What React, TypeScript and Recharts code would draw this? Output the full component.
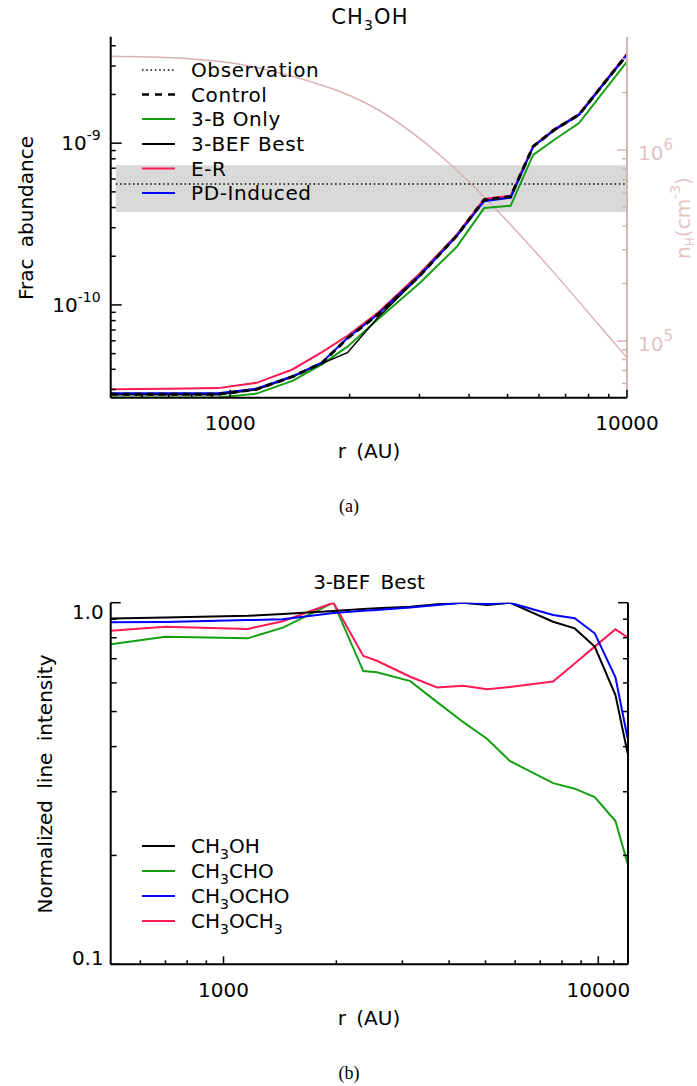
import React from "react"
import { LineChart, Line, XAxis, YAxis, ReferenceArea } from "recharts"

const FONT = "'DejaVu Sans', sans-serif"
const GREEN = "#14a014"
const RED = "#ff1a55"
const BLUE = "#0000ff"
const ROSE = "#d9b2b2"
const ROSE_TEXT = "#e2c4c4"

// ---- panel (a): CH3OH fractional abundance ----
const radiusA = [500, 700, 933, 1165, 1435, 1700, 1975, 2350, 3000, 3720, 4365, 5090, 5800, 6560, 7570, 10000]
const control = [2.8e-11, 2.8e-11, 2.8e-11, 3.01e-11, 3.6e-11, 4.36e-11, 6.22e-11, 8.67e-11, 1.51e-10, 2.67e-10, 4.46e-10, 4.68e-10, 9.53e-10, 1.21e-9, 1.5e-9, 3.52e-9]
const threeBOnly = [2.68e-11, 2.68e-11, 2.68e-11, 2.83e-11, 3.39e-11, 4.28e-11, 5.52e-11, 8.1e-11, 1.36e-10, 2.28e-10, 3.97e-10, 4.1e-10, 8.46e-10, 1.05e-9, 1.33e-9, 3.19e-9]
const threeBEF = [2.78e-11, 2.78e-11, 2.78e-11, 2.99e-11, 3.58e-11, 4.34e-11, 5.07e-11, 8.3e-11, 1.5e-10, 2.66e-10, 4.44e-10, 4.66e-10, 9.5e-10, 1.2e-9, 1.49e-9, 3.5e-9]
const eleyRideal = [3.01e-11, 3.03e-11, 3.06e-11, 3.3e-11, 3.99e-11, 5.09e-11, 6.45e-11, 8.9e-11, 1.56e-10, 2.71e-10, 4.52e-10, 4.73e-10, 9.6e-10, 1.22e-9, 1.51e-9, 3.57e-9]
const pdInduced = [2.84e-11, 2.84e-11, 2.84e-11, 3.04e-11, 3.62e-11, 4.4e-11, 6.25e-11, 8.7e-11, 1.52e-10, 2.66e-10, 4.38e-10, 4.6e-10, 9.5e-10, 1.21e-9, 1.5e-9, 3.52e-9]

// observed value and its range
const obsRadius = [515, 10000]
const obsValue = 5.6e-10
const obsLow = 3.75e-10
const obsHigh = 7.3e-10

// density profile (right axis)
const radiusDensity = [500, 738, 1000, 1234, 1595, 2000, 2378, 2878, 3505, 4055, 5050, 6368, 8506, 10000]
const densityH = [3.1e6, 3.03e6, 2.86e6, 2.63e6, 2.28e6, 1.93e6, 1.61e6, 1.23e6, 8.79e5, 6.62e5, 4.14e5, 2.43e5, 1.21e5, 8.17e4]

const xTicksA = [600, 700, 800, 900, 1000, 2000, 3000, 4000, 5000, 6000, 7000, 8000, 9000, 10000]
const yTicksA = [3e-11, 4e-11, 5e-11, 6e-11, 7e-11, 8e-11, 9e-11, 1e-10, 2e-10, 3e-10, 4e-10, 5e-10, 6e-10, 7e-10, 8e-10, 9e-10, 1e-9, 2e-9, 3e-9, 4e-9]
const nTicksA = [6e4, 7e4, 8e4, 9e4, 1e5, 2e5, 3e5, 4e5, 5e5, 6e5, 7e5, 8e5, 9e5, 1e6, 2e6, 3e6]

// ---- panel (b): normalized line intensity, 3-BEF Best ----
const radiusB = [500, 700, 1160, 1440, 1965, 2360, 2565, 3150, 3715, 4355, 5055, 5805, 7575, 8650, 9780, 11110, 11970]
const ch3oh = [0.905, 0.91, 0.92, 0.93, 0.948, 0.96, 0.965, 0.975, 0.99, 1.0, 0.985, 1.0, 0.886, 0.849, 0.756, 0.555, 0.384]
const ch3cho = [0.767, 0.805, 0.797, 0.853, 1.0, 0.647, 0.642, 0.607, 0.531, 0.468, 0.42, 0.365, 0.317, 0.306, 0.29, 0.249, 0.19]
const ch3ocho = [0.883, 0.885, 0.895, 0.9, 0.937, 0.95, 0.955, 0.97, 0.985, 1.0, 0.992, 1.0, 0.925, 0.906, 0.823, 0.622, 0.422]
const ch3och3 = [0.837, 0.858, 0.846, 0.889, 1.0, 0.712, 0.691, 0.624, 0.583, 0.589, 0.576, 0.585, 0.605, 0.679, 0.756, 0.844, 0.802]

const xTicksB = [600, 700, 800, 900, 1000, 2000, 3000, 4000, 5000, 6000, 7000, 8000, 9000, 10000, 11000]
const yTicksB = [0.1, 0.2, 0.3, 0.4, 0.5, 0.6, 0.7, 0.8, 0.9, 1.0]

const toPoints = (xs: number[], ys: number[]) => xs.map((r, i) => ({ r, v: ys[i] }))

const isMajor = (v: number) => Math.abs(Math.log10(v) - Math.round(Math.log10(v))) < 1e-6

// IDL style ticks: drawn inward from the axis line
const bottomTick = (labelDy: number, len: number[]) => (props: any) => {
  const { x, y, payload } = props
  const major = isMajor(payload.value)
  return (
    <g>
      <line x1={x} x2={x} y1={y} y2={y - (major ? len[0] : len[1])} stroke="#000" strokeWidth={1.5} />
      {major && (
        <text x={x} y={y + labelDy} textAnchor="middle" fontSize={20} fontFamily={FONT} fill="#000">
          {payload.value}
        </text>
      )}
    </g>
  )
}

const topTick = (len: number[]) => (props: any) => {
  const { x, y, payload } = props
  const major = isMajor(payload.value)
  return <line x1={x} x2={x} y1={y} y2={y + (major ? len[0] : len[1])} stroke="#000" strokeWidth={1.5} />
}

const powerLabel = (v: number) => String(Math.round(Math.log10(v)))

const leftTickA = (props: any) => {
  const { x, y, payload } = props
  const major = isMajor(payload.value)
  return (
    <g>
      <line x1={x} x2={x + (major ? 11 : 5)} y1={y} y2={y} stroke="#000" strokeWidth={1.5} />
      {major && (
        <text x={x - 10} y={y + 7} textAnchor="end" fontSize={20} fontFamily={FONT} fill="#000">
          10
          <tspan dy={-10} fontSize={14}>
            {powerLabel(payload.value)}
          </tspan>
        </text>
      )}
    </g>
  )
}

const rightTickA = (props: any) => {
  const { x, y, payload } = props
  const major = isMajor(payload.value)
  return (
    <g>
      <line x1={x} x2={x - (major ? 10 : 5)} y1={y} y2={y} stroke={ROSE} strokeWidth={1.5} />
      {major && (
        <text x={x + 11} y={y + 10} textAnchor="start" fontSize={20} fontFamily={FONT} fill={ROSE_TEXT}>
          10
          <tspan dy={-10} fontSize={15}>
            {powerLabel(payload.value)}
          </tspan>
        </text>
      )}
    </g>
  )
}

const leftTickB = (props: any) => {
  const { x, y, payload } = props
  const v = payload.value
  const major = isMajor(v)
  const dy = v >= 1 ? 16 : 1
  return (
    <g>
      <line x1={x} x2={x + (major ? 10 : 6)} y1={y} y2={y} stroke="#000" strokeWidth={1.5} />
      {major && (
        <text x={x - 7} y={y + dy} textAnchor="end" fontSize={20} fontFamily={FONT} fill="#000">
          {v.toFixed(1)}
        </text>
      )}
    </g>
  )
}

const rightTickB = (props: any) => {
  const { x, y, payload } = props
  const major = isMajor(payload.value)
  return <line x1={x} x2={x - (major ? 10 : 5)} y1={y} y2={y} stroke="#000" strokeWidth={1.5} />
}

const axisStyle = { stroke: "#000", strokeWidth: 2 }

const LegendRow = ({ y, label, stroke, dash, width = 2 }: any) => (
  <g>
    <line x1={142} x2={175} y1={y} y2={y} stroke={stroke} strokeWidth={width} strokeDasharray={dash} />
    <text x={191} y={y + 7} fontSize={20} fontFamily={FONT} fill="#000" letterSpacing={0.6}>
      {label}
    </text>
  </g>
)

const Chem = ({ parts }: { parts: string[] }) => (
  <>
    {parts.map((p, i) =>
      /^\d$/.test(p) ? (
        <tspan key={i} fontSize={14} dy={6}>
          {p}
        </tspan>
      ) : (
        <tspan key={i} dy={i > 0 && /^\d$/.test(parts[i - 1]) ? -6 : 0}>
          {p}
        </tspan>
      )
    )}
  </>
)

function PanelA() {
  return (
    <LineChart width={697} height={480} margin={{ top: 36.7, right: 0, bottom: 0, left: 0 }}>
      <XAxis
        xAxisId="b"
        dataKey="r"
        type="number"
        scale="log"
        domain={[500, 10000]}
        allowDataOverflow
        ticks={xTicksA}
        interval={0}
        tickSize={0}
        tickMargin={0}
        tickLine={false}
        axisLine={axisStyle}
        height={82.3}
        tick={bottomTick(32, [8, 4])}
      />
      <XAxis
        xAxisId="t"
        orientation="top"
        dataKey="r"
        type="number"
        scale="log"
        domain={[500, 10000]}
        allowDataOverflow
        ticks={xTicksA}
        interval={0}
        tickSize={0}
        tickMargin={0}
        tickLine={false}
        axisLine={axisStyle}
        height={0}
        tick={topTick([8, 4])}
      />
      <YAxis
        yAxisId="l"
        type="number"
        scale="log"
        domain={[2.67e-11, 4.55e-9]}
        allowDataOverflow
        ticks={yTicksA}
        interval={0}
        tickSize={0}
        tickMargin={0}
        tickLine={false}
        axisLine={axisStyle}
        width={110.7}
        tick={leftTickA}
      />
      <YAxis
        yAxisId="n"
        orientation="right"
        type="number"
        scale="log"
        domain={[5.05e4, 3.92e6]}
        allowDataOverflow
        ticks={nTicksA}
        interval={0}
        tickSize={0}
        tickMargin={0}
        tickLine={false}
        axisLine={{ stroke: ROSE, strokeWidth: 2 }}
        width={70}
        tick={rightTickA}
      />
      <ReferenceArea
        xAxisId="b"
        yAxisId="l"
        x1={obsRadius[0]}
        x2={obsRadius[1]}
        y1={obsLow}
        y2={obsHigh}
        fill="#d9d9d9"
        fillOpacity={1}
        stroke="none"
      />
      <Line
        xAxisId="b"
        yAxisId="n"
        data={toPoints(radiusDensity, densityH)}
        dataKey="v"
        type="monotone"
        stroke={ROSE}
        strokeWidth={1.5}
        dot={false}
        isAnimationActive={false}
      />
      <Line
        xAxisId="b"
        yAxisId="l"
        data={toPoints(obsRadius, [obsValue, obsValue])}
        dataKey="v"
        stroke="#000"
        strokeWidth={1.5}
        strokeDasharray="1.5 2.8"
        dot={false}
        isAnimationActive={false}
      />
      <Line xAxisId="b" yAxisId="l" data={toPoints(radiusA, threeBOnly)} dataKey="v" stroke={GREEN} strokeWidth={2} dot={false} isAnimationActive={false} />
      <Line xAxisId="b" yAxisId="l" data={toPoints(radiusA, threeBEF)} dataKey="v" stroke="#000" strokeWidth={1.5} dot={false} isAnimationActive={false} />
      <Line xAxisId="b" yAxisId="l" data={toPoints(radiusA, eleyRideal)} dataKey="v" stroke={RED} strokeWidth={2} dot={false} isAnimationActive={false} />
      <Line xAxisId="b" yAxisId="l" data={toPoints(radiusA, pdInduced)} dataKey="v" stroke={BLUE} strokeWidth={2} dot={false} isAnimationActive={false} />
      <Line
        xAxisId="b"
        yAxisId="l"
        data={toPoints(radiusA, control)}
        dataKey="v"
        stroke="#000"
        strokeWidth={3}
        strokeDasharray="7 5"
        dot={false}
        isAnimationActive={false}
      />
    </LineChart>
  )
}

function PanelB() {
  const series = [
    { values: ch3cho, color: GREEN },
    { values: ch3och3, color: RED },
    { values: ch3oh, color: "#000" },
    { values: ch3ocho, color: BLUE },
  ]
  return (
    <LineChart width={697} height={480} margin={{ top: 42.7, right: 0, bottom: 0, left: 0 }}>
      <XAxis
        xAxisId="b"
        dataKey="r"
        type="number"
        scale="log"
        domain={[500, 12000]}
        allowDataOverflow
        ticks={xTicksB}
        interval={0}
        tickSize={0}
        tickMargin={0}
        tickLine={false}
        axisLine={axisStyle}
        height={75.7}
        tick={bottomTick(33, [8, 4])}
      />
      <XAxis
        xAxisId="t"
        orientation="top"
        dataKey="r"
        type="number"
        scale="log"
        domain={[500, 12000]}
        allowDataOverflow
        ticks={xTicksB}
        interval={0}
        tickSize={0}
        tickMargin={0}
        tickLine={false}
        axisLine={axisStyle}
        height={0}
        tick={topTick([8, 4])}
      />
      <YAxis
        yAxisId="l"
        type="number"
        scale="log"
        domain={[0.1, 1.0]}
        allowDataOverflow
        ticks={yTicksB}
        interval={0}
        tickSize={0}
        tickMargin={0}
        tickLine={false}
        axisLine={axisStyle}
        width={110.7}
        tick={leftTickB}
      />
      <YAxis
        yAxisId="r"
        orientation="right"
        type="number"
        scale="log"
        domain={[0.1, 1.0]}
        allowDataOverflow
        ticks={yTicksB}
        interval={0}
        tickSize={0}
        tickMargin={0}
        tickLine={false}
        axisLine={axisStyle}
        width={69}
        tick={rightTickB}
      />
      {series.map((s, i) => (
        <Line
          key={i}
          xAxisId="b"
          yAxisId="l"
          data={toPoints(radiusB, s.values)}
          dataKey="v"
          stroke={s.color}
          strokeWidth={2}
          dot={false}
          isAnimationActive={false}
        />
      ))}
    </LineChart>
  )
}

export default function App() {
  const txt = { fontFamily: FONT, fontSize: 20, fill: "#000" }
  return (
    <div style={{ position: "absolute", left: 0, top: 0, width: 697, height: 1086, background: "#fff" }}>
      <div style={{ position: "absolute", left: 0, top: 0 }}>
        <PanelA />
      </div>
      <div style={{ position: "absolute", left: 0, top: 560 }}>
        <PanelB />
      </div>
      <svg width={697} height={1086} style={{ position: "absolute", left: 0, top: 0, pointerEvents: "none" }}>
        {/* panel (a) texts */}
        <text x={370} y={24} textAnchor="middle" {...txt} fontSize={21} letterSpacing={1.2}>
          <Chem parts={["CH", "3", "OH"]} />
        </text>
        <text x={369} y={458} textAnchor="middle" {...txt} wordSpacing={4}>
          r (AU)
        </text>
        <text transform="translate(33,218) rotate(-90)" textAnchor="middle" {...txt} wordSpacing={5}>
          Frac abundance
        </text>
        <text transform="translate(690,218) rotate(-90)" textAnchor="middle" {...txt} fill={ROSE_TEXT}>
          n<tspan fontSize={12} dy={4}>H</tspan>
          <tspan dy={-4}>(cm</tspan>
          <tspan fontSize={14} dy={-10}>-3</tspan>
          <tspan dy={10}>)</tspan>
        </text>
        <LegendRow y={70} label="Observation" stroke="#000" dash="1.5 2.8" width={1.5} />
        <LegendRow y={94.5} label="Control" stroke="#000" dash="7 6" width={2.5} />
        <LegendRow y={119} label="3-B Only" stroke={GREEN} />
        <LegendRow y={144} label="3-BEF Best" stroke="#000" />
        <LegendRow y={168.5} label="E-R" stroke={RED} />
        <LegendRow y={193} label="PD-Induced" stroke={BLUE} />
        <text x={349} y={512} textAnchor="middle" fontFamily="'Liberation Serif', serif" fontSize={18}>
          (a)
        </text>

        {/* panel (b) texts */}
        <text x={369} y={589} textAnchor="middle" {...txt} wordSpacing={4}>
          3-BEF Best
        </text>
        <text x={369} y={1025} textAnchor="middle" {...txt} wordSpacing={4}>
          r (AU)
        </text>
        <text transform="translate(52,784) rotate(-90)" textAnchor="middle" {...txt} wordSpacing={5}>
          Normalized line intensity
        </text>
        {[
          { y: 846, parts: ["CH", "3", "OH"], c: "#000" },
          { y: 871, parts: ["CH", "3", "CHO"], c: GREEN },
          { y: 896, parts: ["CH", "3", "OCHO"], c: BLUE },
          { y: 921, parts: ["CH", "3", "OCH", "3"], c: RED },
        ].map((row, i) => (
          <g key={i}>
            <line x1={142} x2={175} y1={row.y} y2={row.y} stroke={row.c} strokeWidth={2} />
            <text x={191} y={row.y + 7} {...txt}>
              <Chem parts={row.parts} />
            </text>
          </g>
        ))}
        <text x={349} y={1079} textAnchor="middle" fontFamily="'Liberation Serif', serif" fontSize={18}>
          (b)
        </text>
      </svg>
    </div>
  )
}
